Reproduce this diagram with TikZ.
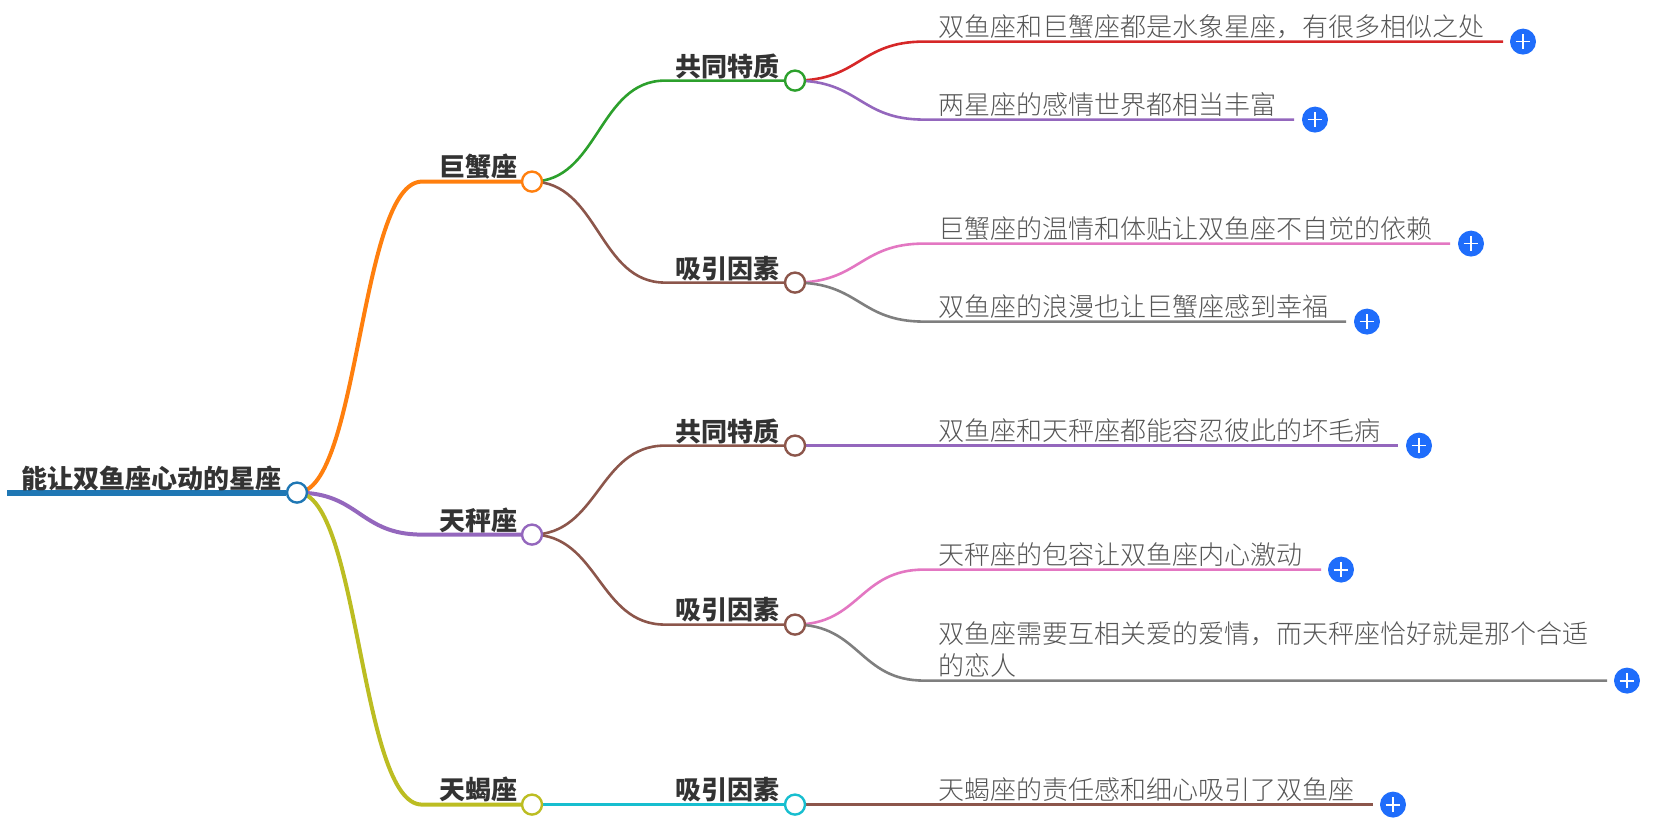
\documentclass[tikz,border=0pt]{standalone}
\usepackage{fontspec}
\usetikzlibrary{calc}
\setmainfont{Noto Sans CJK SC}
\newfontfamily\leaffont{Noto Sans CJK SC Light}
\pgfdeclarelayer{edges}
\pgfsetlayers{edges,main}
\definecolor{tblue}{HTML}{1F77B4}
\definecolor{torange}{HTML}{FF7F0E}
\definecolor{tgreen}{HTML}{2CA02C}
\definecolor{tred}{HTML}{D62728}
\definecolor{tpurple}{HTML}{9467BD}
\definecolor{tbrown}{HTML}{8C564B}
\definecolor{tpink}{HTML}{E377C2}
\definecolor{tgray}{HTML}{7F7F7F}
\definecolor{tolive}{HTML}{BCBD22}
\definecolor{tcyan}{HTML}{17BECF}
\definecolor{plusblue}{HTML}{1F6DFB}
\definecolor{inktext}{HTML}{333333}
\definecolor{leaftext}{HTML}{555555}
\tikzset{
  hub/.style={circle,draw=#1,fill=white,line width=1.2pt,minimum size=10pt,inner sep=0pt},
  boldlabel/.style={font=\bfseries\fontsize{13pt}{15pt}\selectfont,text=inktext,inner sep=0pt},
  leaflabel/.style={font=\leaffont\fontsize{13pt}{16pt}\selectfont,text=leaftext,inner sep=0pt},
  thick1/.style={line width=2pt,draw=#1},
  thin2/.style={line width=1.3pt,draw=#1},
  plusbtn/.style={circle,fill=plusblue,minimum size=13pt,inner sep=0pt,
    path picture={\draw[white,line width=0.9pt]
      (path picture bounding box.center) +(-3.7pt,0) -- +(3.7pt,0)
      (path picture bounding box.center) +(0,-3.7pt) -- +(0,3.7pt);}},
}
\newcommand{\bend}[4]{% style, from, knee, to
  \coordinate (bendmid) at ($(#2.center)!0.5!(#3)$);
  \draw[#1] (#2.center) .. controls (bendmid |- #2.center) and (bendmid |- #3) .. (#3) -- (#4);}
\begin{document}
\begin{tikzpicture}[x=0.5pt,y=-0.5pt]
\useasboundingbox (0,0) rectangle (1656,818);
\begin{scope}[yshift=-0.3pt]
% hubs
\node[hub=tblue] (root) at (297,492) {};
\node[hub=torange] (ju) at (532,181) {};
\node[hub=tpurple] (tian) at (532,534) {};
\node[hub=tolive] (xie) at (532,804) {};
\node[hub=tgreen] (a1) at (795,80) {};
\node[hub=tbrown] (a2) at (795,282) {};
\node[hub=tbrown] (b1) at (795,445) {};
\node[hub=tbrown] (b2) at (795,624) {};
\node[hub=tcyan] (c1) at (795,804) {};
% knees and line ends
\coordinate (rootstart) at (7,492);
\coordinate (kju) at (422,181);
\coordinate (ktian) at (422,534);
\coordinate (kxie) at (422,804);
\coordinate (ka1) at (665,80);
\coordinate (ka2) at (665,282);
\coordinate (kb1) at (665,445);
\coordinate (kb2) at (665,624);
\coordinate (kc1) at (665,804);
\coordinate (k1) at (924,41);   \coordinate (e1) at (1503,41);
\coordinate (k2) at (924,119);  \coordinate (e2) at (1294,119);
\coordinate (k3) at (924,243);  \coordinate (e3) at (1450,243);
\coordinate (k4) at (924,321);  \coordinate (e4) at (1346,321);
\coordinate (k5) at (924,445);  \coordinate (e5) at (1398,445);
\coordinate (k6) at (924,569);  \coordinate (e6) at (1321,569);
\coordinate (k7) at (924,680);  \coordinate (e7) at (1607,680);
\coordinate (k8) at (924,804);  \coordinate (e8) at (1373,804);
% connectors
\begin{pgfonlayer}{edges}
\draw[line width=3pt,draw=tblue] (rootstart) -- (root.west);
\bend{thick1=torange}{root}{kju}{ju.west}
\bend{thick1=tpurple}{root}{ktian}{tian.west}
\bend{thick1=tolive}{root}{kxie}{xie.west}
\bend{thin2=tgreen}{ju}{ka1}{a1.west}
\bend{thin2=tbrown}{ju}{ka2}{a2.west}
\bend{thin2=tbrown}{tian}{kb1}{b1.west}
\bend{thin2=tbrown}{tian}{kb2}{b2.west}
\bend{thin2=tcyan}{xie}{kc1}{c1.west}
\bend{thin2=tred}{a1}{k1}{e1}
\bend{thin2=tpurple}{a1}{k2}{e2}
\bend{thin2=tpink}{a2}{k3}{e3}
\bend{thin2=tgray}{a2}{k4}{e4}
\bend{thin2=tpurple}{b1}{k5}{e5}
\bend{thin2=tpink}{b2}{k6}{e6}
\bend{thin2=tgray}{b2}{k7}{e7}
\bend{thin2=tbrown}{c1}{k8}{e8}
\end{pgfonlayer}
% bold labels
\node[boldlabel,anchor=base west] (troot) at (21,487.5) {能让双鱼座心动的星座};
\node[boldlabel,anchor=base east] (tju) at (518,175.5) {巨蟹座};
\node[boldlabel,anchor=base east] (ttian) at (518,529.5) {天秤座};
\node[boldlabel,anchor=base east] (txie) at (518,798.5) {天蝎座};
\node[boldlabel,anchor=base east] (ta1) at (780,75.5) {共同特质};
\node[boldlabel,anchor=base east] (ta2) at (780,277.5) {吸引因素};
\node[boldlabel,anchor=base east] (tb1) at (780,440.5) {共同特质};
\node[boldlabel,anchor=base east] (tb2) at (780,618.5) {吸引因素};
\node[boldlabel,anchor=base east] (tc1) at (780,798.5) {吸引因素};
% leaf labels
\node[leaflabel,anchor=base west] (l1) at (938,36) {双鱼座和巨蟹座都是水象星座，有很多相似之处};
\node[leaflabel,anchor=base west] (l2) at (938,114) {两星座的感情世界都相当丰富};
\node[leaflabel,anchor=base west] (l3) at (938,238) {巨蟹座的温情和体贴让双鱼座不自觉的依赖};
\node[leaflabel,anchor=base west] (l4) at (938,316) {双鱼座的浪漫也让巨蟹座感到幸福};
\node[leaflabel,anchor=base west] (l5) at (938,440) {双鱼座和天秤座都能容忍彼此的坏毛病};
\node[leaflabel,anchor=base west] (l6) at (938,564) {天秤座的包容让双鱼座内心激动};
\node[leaflabel,anchor=south west,align=left] (l7) at (938,677) {双鱼座需要互相关爱的爱情，而天秤座恰好就是那个合适\\的恋人};
\node[leaflabel,anchor=base west] (l8) at (938,799) {天蝎座的责任感和细心吸引了双鱼座};
% plus buttons
\node[plusbtn] (p1) at (1523,41) {};
\node[plusbtn] (p2) at (1315,119) {};
\node[plusbtn] (p3) at (1471,243) {};
\node[plusbtn] (p4) at (1367,321) {};
\node[plusbtn] (p5) at (1419,445) {};
\node[plusbtn] (p6) at (1341,569) {};
\node[plusbtn] (p7) at (1627,680) {};
\node[plusbtn] (p8) at (1393,804) {};
\end{scope}
\end{tikzpicture}
\end{document}
